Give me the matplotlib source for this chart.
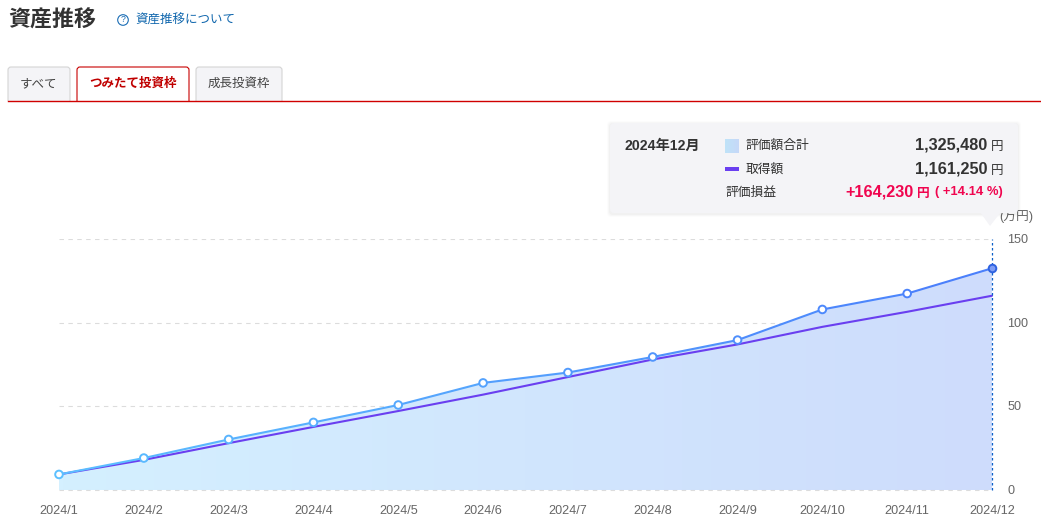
import numpy as np
import matplotlib
matplotlib.use("Agg")
import matplotlib.pyplot as plt
from matplotlib.collections import LineCollection
from matplotlib.colors import LinearSegmentedColormap
from matplotlib.patches import FancyBboxPatch, Polygon, Rectangle
from matplotlib.transforms import ScaledTranslation

plt.rcParams['font.family'] = ['Liberation Sans', 'Noto Sans CJK JP', 'DejaVu Sans']

W, H = 1041, 527

# data (万円)
months = ['2024/1', '2024/2', '2024/3', '2024/4', '2024/5', '2024/6',
          '2024/7', '2024/8', '2024/9', '2024/10', '2024/11', '2024/12']
valuation = [9.3, 19.1, 30.2, 40.4, 50.8, 64.0, 70.2, 79.5, 89.6, 107.9, 117.4, 132.5]
cost = [9.3, 18.0, 28.0, 37.7, 47.2, 57.0, 67.5, 78.0, 87.0, 97.5, 106.5, 116.1]
y_ticks = [0, 50, 100, 150]

fill_cmap = LinearSegmentedColormap.from_list('fill', ['#d4f0ff', '#cedcfc'])
line_cmap = LinearSegmentedColormap.from_list('line', ['#5cc0ff', '#4a7dfb'])

fig = plt.figure(figsize=(W / 100, H / 100), dpi=100)

# page overlay in pixel coordinates
page = fig.add_axes([0, 0, 1, 1], zorder=5)
page.set_xlim(0, W)
page.set_ylim(H, 0)
page.axis('off')

# chart area
ax = fig.add_axes([59 / W, 1 - 490 / H, (992 - 59) / W, (490 - 239) / H], zorder=1)
ax.set_xlim(0, len(months) - 1)
ax.set_ylim(0, 150)
for s in ax.spines.values():
    s.set_visible(False)
ax.set_xticks(range(len(months)))
ax.set_xticklabels(months)
ax.set_yticks(y_ticks)
ax.yaxis.tick_right()
ax.tick_params(axis='x', length=0, pad=10.5, labelsize=9.1, labelcolor='#666666')
ax.tick_params(axis='y', length=0, pad=11, labelsize=9.1, labelcolor='#666666')
# value labels sit a little above their gridline
shift = ScaledTranslation(0, 0.4 / 72, fig.dpi_scale_trans)
for lab in ax.get_yticklabels():
    lab.set_transform(lab.get_transform() + shift)
ax.grid(axis='y', color='#dcdcdc', linestyle=(0, (4, 4)), linewidth=0.8)
ax.set_axisbelow(True)

x = np.arange(len(months))

# area with horizontal gradient
grad = np.linspace(0, 1, 256).reshape(1, -1)
im = ax.imshow(grad, extent=(0, len(months) - 1, 0, 150), aspect='auto',
               cmap=fill_cmap, zorder=1.5)
area = ax.fill_between(x, 0, valuation, facecolor='none', edgecolor='none')
im.set_clip_path(area.get_paths()[0], transform=ax.transData)

# dashed baseline stays visible over the fill
ax.axhline(0, color='#dcdcdc', linestyle=(0, (4, 4)), linewidth=0.8, zorder=2, clip_on=False)

# cost line
ax.plot(x, cost, color='#6a3ff0', linewidth=1.5, zorder=3, clip_on=False,
        solid_capstyle='round')

# valuation line, colour follows the gradient
pts = np.column_stack([x, valuation])
segs = np.stack([pts[:-1], pts[1:]], axis=1)
lc = LineCollection(segs, cmap=line_cmap, linewidths=1.5, zorder=4, capstyle='round')
lc.set_array((x[:-1] + 0.5) / x[-1])
lc.set_clim(0, 1)
ax.add_collection(lc)

# markers
colors = line_cmap(x / x[-1])
ax.scatter(x[:-1], valuation[:-1], s=30, facecolor='white', edgecolor=colors[:-1],
           linewidth=1.4, zorder=5, clip_on=False)
ax.scatter(x[-1:], valuation[-1:], s=30, facecolor='#7f9df5', edgecolor='#2f62e0',
           linewidth=1.4, zorder=6, clip_on=False)

# hover line
ax.axvline(x[-1], color='#0a5fc8', linestyle=(0, (2, 2)), linewidth=0.9, zorder=4.5,
           clip_on=False)

page.text(999, 217, '(万円)', fontsize=9.2, color='#666666', va='center', ha='left')

# header
page.text(8, 21, '資産推移', fontsize=15.8, fontweight='bold', color='#333333', va='center')
page.add_patch(plt.Circle((123, 20), 5.3, facecolor='white', edgecolor='#1a6db5', linewidth=0.8))
page.text(123, 20, '?', fontsize=6.2, color='#1a6db5', ha='center', va='center')
page.text(135, 21, '資産推移について', fontsize=9, color='#0f66ad', va='center')

# tabs
def tab(x0, x1, label, active=False):
    top = 67
    bottom = 100
    fc = 'white' if active else '#f4f4f7'
    ec = '#c80000' if active else '#d4d4d4'
    page.add_patch(FancyBboxPatch((x0 + 3, top + 3), x1 - x0 - 6, bottom - top,
                                  boxstyle='round,pad=3,rounding_size=3',
                                  facecolor=fc, edgecolor=ec, linewidth=0.8))
    page.text((x0 + x1) / 2, 84, label, fontsize=9,
              color='#c00000' if active else '#444444',
              fontweight='bold' if active else 'normal', ha='center', va='center')

tab(8, 70, 'すべて')
tab(77, 189, 'つみたて投資枠', active=True)
tab(196, 282, '成長投資枠')
page.add_patch(Rectangle((0, 101), W, 30, facecolor='white', edgecolor='none', zorder=1.5))
page.plot([8, W], [100.5, 100.5], color='#d00000', linewidth=1.0, zorder=3)

# tooltip
for pad, alpha in [(3, 0.012), (2, 0.018), (1, 0.025)]:
    page.add_patch(FancyBboxPatch((613 - pad, 126 - pad + 1), 402 + 2 * pad, 84 + 2 * pad,
                                  boxstyle='round,pad=3,rounding_size=4', facecolor='black',
                                  edgecolor='none', alpha=alpha, zorder=6))
page.add_patch(Polygon([[980, 212], [1001, 212], [990, 226]], facecolor='#f4f4f7',
                       edgecolor='none', zorder=7))
page.add_patch(FancyBboxPatch((613, 126), 402, 84, boxstyle='round,pad=3,rounding_size=4',
                              facecolor='#f4f4f7', edgecolor='none', zorder=7))

page.text(624.5, 146, '2024年12月', fontsize=10.2, fontweight='bold', color='#333333',
          va='center', zorder=8)

swatch = page.imshow(grad, extent=(725, 739, 153, 139), aspect='auto', zorder=8,
                     cmap=LinearSegmentedColormap.from_list('sw', ['#bfe3f8', '#c6d8f8']))
page.set_xlim(0, W)
page.set_ylim(H, 0)
page.add_patch(Rectangle((725, 167), 14, 4, facecolor='#6a3ff0', edgecolor='none', zorder=8))

page.text(746, 146, '評価額合計', fontsize=9.2, color='#333333', va='center', zorder=8)
page.text(746, 170, '取得額', fontsize=9.2, color='#333333', va='center', zorder=8)
page.text(725, 193, '評価損益', fontsize=9.2, color='#333333', va='center', zorder=8)

page.text(987, 145, '1,325,480', fontsize=11.7, fontweight='bold', color='#333333',
          ha='right', va='center', zorder=8)
page.text(1003, 147, '円', fontsize=9, color='#333333', ha='right', va='center', zorder=8)
page.text(987, 169, '1,161,250', fontsize=11.7, fontweight='bold', color='#333333',
          ha='right', va='center', zorder=8)
page.text(1003, 171, '円', fontsize=9, color='#333333', ha='right', va='center', zorder=8)
page.text(914, 192, '+164,230', fontsize=11.7, fontweight='bold', color='#f0054f',
          ha='right', va='center', zorder=8)
page.text(930, 194, '円', fontsize=9.2, fontweight='bold', color='#f0054f',
          ha='right', va='center', zorder=8)
page.text(1003, 192.5, '( +14.14 %)', fontsize=9.4, fontweight='bold', color='#f0054f',
          ha='right', va='center', zorder=8)

fig.savefig('out.png', dpi=100)
